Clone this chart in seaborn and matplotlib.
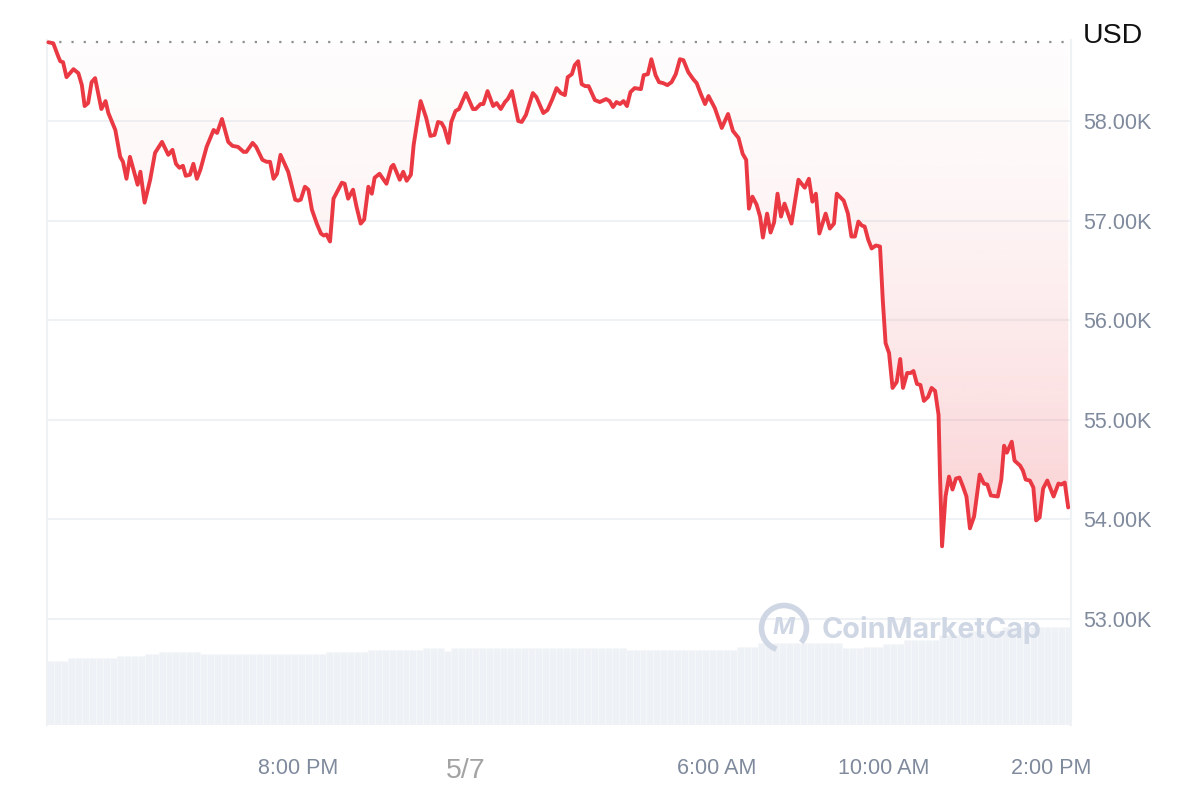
import numpy as np
import pandas as pd
import seaborn as sns
import matplotlib.pyplot as plt
from matplotlib.patches import Arc

sns.set_theme(style='white')
plt.rcParams['font.family'] = ['Liberation Sans', 'DejaVu Sans']

# minutes since 2:00 PM (4 Jul) and BTC price in thousands USD
minutes = [2, 9, 16, 19, 23, 28, 38, 45, 50, 54, 59, 64, 69, 78, 84, 88, 98, 105, 109, 114,
           119, 130, 134, 140, 148, 155, 165, 174, 180, 185, 190, 195, 199, 205, 210, 215, 220, 229, 239, 244,
           251, 260, 266, 274, 282, 286, 295, 300, 309, 315, 320, 325, 330, 335, 346, 356, 360, 364, 370, 375,
           380, 387, 393, 397, 401, 406, 411, 423, 427, 432, 439, 444, 450, 455, 461, 466, 470, 477, 487, 494,
           497, 506,
           511, 516, 522, 526, 530, 536, 544, 550, 556, 561, 566, 570, 576, 580, 586, 591, 601, 611, 615, 622,
           626, 632, 640, 645, 651, 657, 661, 667, 676, 681, 687, 697, 702, 712, 718, 725, 731, 737, 743, 747,
           753, 757, 762, 767, 772, 777, 786, 793, 802, 807, 812, 817, 822, 827, 832, 837, 843, 852, 856, 862,
           867, 873, 878, 884, 890, 896, 902, 908, 913, 920, 927, 932, 938, 944, 949, 958, 968, 977, 984, 992,
           998, 1003, 1007,
           1012, 1018, 1023, 1027, 1033, 1038, 1043, 1048, 1053, 1058, 1068, 1078, 1087, 1093, 1098, 1103, 1108, 1117, 1123, 1129,
           1133, 1143, 1149, 1154, 1159, 1164, 1169, 1173, 1178, 1183, 1189, 1195, 1199, 1203, 1208, 1213, 1219, 1224, 1228, 1234,
           1239, 1243, 1248, 1253, 1258, 1264, 1269, 1274, 1279, 1281, 1284, 1289, 1294, 1299, 1304, 1309, 1314, 1319, 1324, 1330,
           1338, 1344, 1349, 1354, 1364, 1369, 1373, 1377, 1384, 1388, 1396, 1400, 1404, 1410, 1415, 1419, 1424, 1429, 1435, 1444,
           1451, 1455, 1460, 1465]
price_k = [58.79, 58.78, 58.65, 58.60, 58.59, 58.44, 58.52, 58.48, 58.36, 58.15, 58.18, 58.39, 58.43, 58.12, 58.20, 58.08, 57.91, 57.64, 57.59, 57.42,
           57.64, 57.36, 57.49, 57.18, 57.41, 57.68, 57.79, 57.66, 57.71, 57.57, 57.53, 57.55, 57.45, 57.46, 57.57, 57.42, 57.51, 57.74, 57.91, 57.88,
           58.02, 57.79, 57.75, 57.74, 57.69, 57.69, 57.78, 57.74, 57.61, 57.59, 57.59, 57.42, 57.47, 57.66, 57.49, 57.21, 57.20, 57.21, 57.34, 57.31,
           57.11, 56.97, 56.87, 56.85, 56.86, 56.79, 57.22, 57.38, 57.37, 57.22, 57.31, 57.14, 56.97, 57.01, 57.34, 57.27, 57.43, 57.47, 57.37, 57.54,
           57.56, 57.41,
           57.49, 57.40, 57.46, 57.76, 57.94, 58.20, 58.03, 57.85, 57.86, 57.99, 57.98, 57.93, 57.78, 57.99, 58.10, 58.12, 58.28, 58.12, 58.12, 58.17,
           58.17, 58.30, 58.15, 58.18, 58.12, 58.19, 58.22, 58.30, 58.00, 57.99, 58.06, 58.28, 58.24, 58.08, 58.11, 58.22, 58.33, 58.28, 58.26, 58.44,
           58.47, 58.56, 58.60, 58.37, 58.35, 58.35, 58.21, 58.19, 58.22, 58.20, 58.14, 58.19, 58.17, 58.20, 58.15, 58.29, 58.33, 58.32, 58.46, 58.47,
           58.62, 58.46, 58.39, 58.38, 58.36, 58.39, 58.47, 58.62, 58.61, 58.49, 58.42, 58.38, 58.27, 58.17, 58.25, 58.13, 57.93, 58.07, 57.90, 57.83,
           57.67, 57.61, 57.12,
           57.24, 57.16, 57.04, 56.83, 57.07, 56.88, 56.98, 57.27, 57.04, 57.17, 56.97, 57.41, 57.33, 57.42, 57.19, 57.27, 56.87, 57.07, 56.92, 56.97,
           57.27, 57.20, 57.07, 56.84, 56.84, 56.99, 56.95, 56.94, 56.81, 56.72, 56.75, 56.74, 56.20, 55.77, 55.67, 55.32, 55.38, 55.61, 55.32, 55.47,
           55.47, 55.49, 55.36, 55.35, 55.19, 55.23, 55.32, 55.29, 55.05, 54.46, 53.73, 54.23, 54.43, 54.30, 54.41, 54.42, 54.33, 54.23, 53.91, 54.03,
           54.45, 54.36, 54.35, 54.24, 54.23, 54.40, 54.74, 54.67, 54.78, 54.59, 54.54, 54.49, 54.40, 54.39, 54.32, 53.99, 54.02, 54.31, 54.39, 54.23,
           54.36, 54.35, 54.37, 54.12]
open_price = 58.79

# 24h volume (billions USD), 10-minute bars: plateau levels and how many bars each lasts
vol_levels = [26.0, 26.9, 27.9, 28.7, 29.5, 28.7, 29.5, 30.3, 31.0, 30.0, 31.0,
              30.2, 31.5, 33.0, 31.1, 31.7, 32.7, 34.3, 36.4, 38.0, 39.6]
vol_counts = [3, 7, 4, 2, 6, 18, 6, 8, 3, 1, 25, 16, 3, 12, 3, 3, 3, 5, 4, 5, 10]
volume = np.repeat(vol_levels, vol_counts)

tick_minutes = [360, 600, 960, 1200, 1440]
tick_labels = ['8:00 PM', '5/7', '6:00 AM', '10:00 AM', '2:00 PM']
price_ticks = [53, 54, 55, 56, 57, 58]

df = pd.DataFrame({'minute': minutes, 'price': price_k})

fig = plt.figure(figsize=(11.99, 8), dpi=100)
rect = [47 / 1199, 75 / 800, 1024 / 1199, 685 / 800]
ax_vol = fig.add_axes(rect)
ax = fig.add_axes(rect, sharex=ax_vol)
ax.patch.set_visible(False)

# volume bars
ax_vol.bar(np.arange(len(volume)) * 10, volume, width=10, align='edge',
           color='#eef1f5', edgecolor='#f7f8fa', linewidth=0.5)
ax_vol.set_ylim(0, 277)
ax_vol.set_axis_off()

x_max = 1469
y_lo, y_hi = 51.936, 58.813

# gradient fill between the price and the opening level
poly = ax.fill_between(df['minute'], df['price'], open_price, color='none', linewidth=0)
rows = np.linspace(y_lo, open_price, 300)
t = np.clip((open_price - rows) / (open_price - min(price_k)), 0, 1)
grad = np.zeros((300, 2, 4))
grad[..., 0] = 234 / 255
grad[..., 1] = 57 / 255
grad[..., 2] = 67 / 255
grad[..., 3] = (0.015 + 0.23 * t ** 1.6)[:, None]
im = ax.imshow(grad, extent=[0, x_max, y_lo, open_price], origin='lower',
               aspect='auto', zorder=1, interpolation='bilinear')
im.set_clip_path(poly.get_paths()[0], transform=ax.transData)

sns.lineplot(data=df, x='minute', y='price', ax=ax, color='#ea3943',
             linewidth=2.8, zorder=4, clip_on=False)
ax.axhline(open_price, color='#8f8f8f', linewidth=1.6, linestyle=(0, (1, 4.5)), zorder=3)

ax.set_xlim(0, x_max)
ax.set_ylim(y_lo, y_hi)
ax.set_xlabel('')
ax.set_ylabel('')

ax.yaxis.tick_right()
ax.set_yticks(price_ticks, [f'{v:.2f}K' for v in price_ticks])
ax.set_xticks(tick_minutes, tick_labels)
ax.grid(axis='y', color='#eff2f5', linewidth=1.5)
ax.grid(axis='x', visible=False)
ax.set_axisbelow(True)
ax.tick_params(axis='y', length=0, pad=8.6, labelsize=15.5, labelcolor='#808a9d')
ax.tick_params(axis='x', length=0, pad=24, labelsize=15.5, labelcolor='#808a9d')
date_lbl = ax.get_xticklabels()[1]
date_lbl.set_fontsize(20.5)
date_lbl.set_color('#a3a3a3')

for side in ['top', 'bottom']:
    ax.spines[side].set_visible(False)
for side in ['left', 'right']:
    ax.spines[side].set_color('#eff2f5')
    ax.spines[side].set_linewidth(1.5)

fig.text(1083 / 1199, 1 - 36 / 800, 'USD', fontsize=20.5, color='#111111',
         ha='left', va='center')

# watermark
fig.add_artist(Arc((7.84, 1.72), 0.45, 0.45, theta1=-40, theta2=250,
                   transform=fig.dpi_scale_trans, color='#cfd6e4', linewidth=4))
fig.text(784 / 1199, 1 - 628 / 800, 'M', fontsize=17, fontweight='bold', style='italic',
         color='#cfd6e4', ha='center', va='center', family=['Inter', 'DejaVu Sans'])
fig.text(822 / 1199, 1 - 630 / 800, 'CoinMarketCap', fontsize=20.7, fontweight='bold',
         color='#cfd6e4', ha='left', va='center', family=['Inter', 'DejaVu Sans'])

fig.savefig('out.png', dpi=100)
